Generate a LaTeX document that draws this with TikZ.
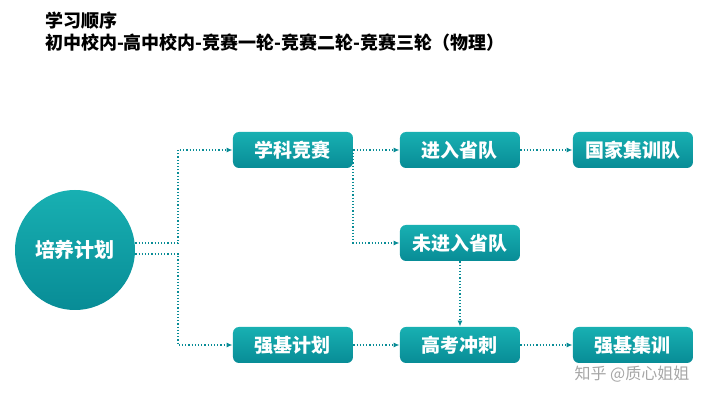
\documentclass[tikz,border=0pt]{standalone}
\usepackage{fontspec}
\setmainfont{Noto Sans CJK SC}
\usetikzlibrary{arrows.meta}
\definecolor{teal1}{RGB}{24,176,178}
\definecolor{teal2}{RGB}{8,140,150}
\tikzstyle{box}=[rounded corners=3pt,top color=teal1,bottom color=teal2,text=white,minimum width=60pt,minimum height=18pt,inner sep=0pt,font=\fontsize{9.5}{10}\selectfont\bfseries]
\tikzstyle{link}=[densely dotted,teal2,line width=0.6pt,-{Latex[length=3pt,width=2.5pt]}]
\begin{document}
\begin{tikzpicture}[x=0.5pt,y=-0.5pt]
\useasboundingbox (0,0) rectangle (720,401);
\node[anchor=west,font=\fontsize{9}{11}\selectfont\bfseries,align=left] (T) at (38,32) {学习顺序\\初中校内-高中校内-竞赛一轮-竞赛二轮-竞赛三轮（物理）};
\node[circle,top color=teal1,bottom color=teal2,text=white,minimum size=60pt,font=\fontsize{10}{10}\selectfont\bfseries] (Plan) at (75,250) {培养计划};
\node[box] (Comp) at (293,150) {学科竞赛};
\node[box] (Prov) at (460,150) {进入省队};
\node[box] (Nat) at (633,150) {国家集训队};
\node[box] (NoProv) at (460,243) {未进入省队};
\node[box] (Base) at (293,345) {强基计划};
\node[box] (Exam) at (460,345) {高考冲刺};
\node[box] (Camp) at (633,345) {强基集训};
\node[text=gray!70,font=\fontsize{8}{10}\selectfont] (Mark) at (632,374) {知乎 @质心姐姐};
\draw[link] (Plan.east |- 0,243) -- (178,243) |- (Comp.west);
\draw[link] (Plan.east |- 0,254) -- (178,254) |- (Base.west);
\draw[link] (Comp.east) -- (Prov.west);
\draw[link] (Comp.east) -- (353,150) |- (NoProv.west);
\draw[link] (Prov.east) -- (Nat.west);
\draw[link] (NoProv.south) -- (Exam.north);
\draw[link] (Base.east) -- (Exam.west);
\draw[link] (Exam.east) -- (Camp.west);
\end{tikzpicture}
\end{document}
